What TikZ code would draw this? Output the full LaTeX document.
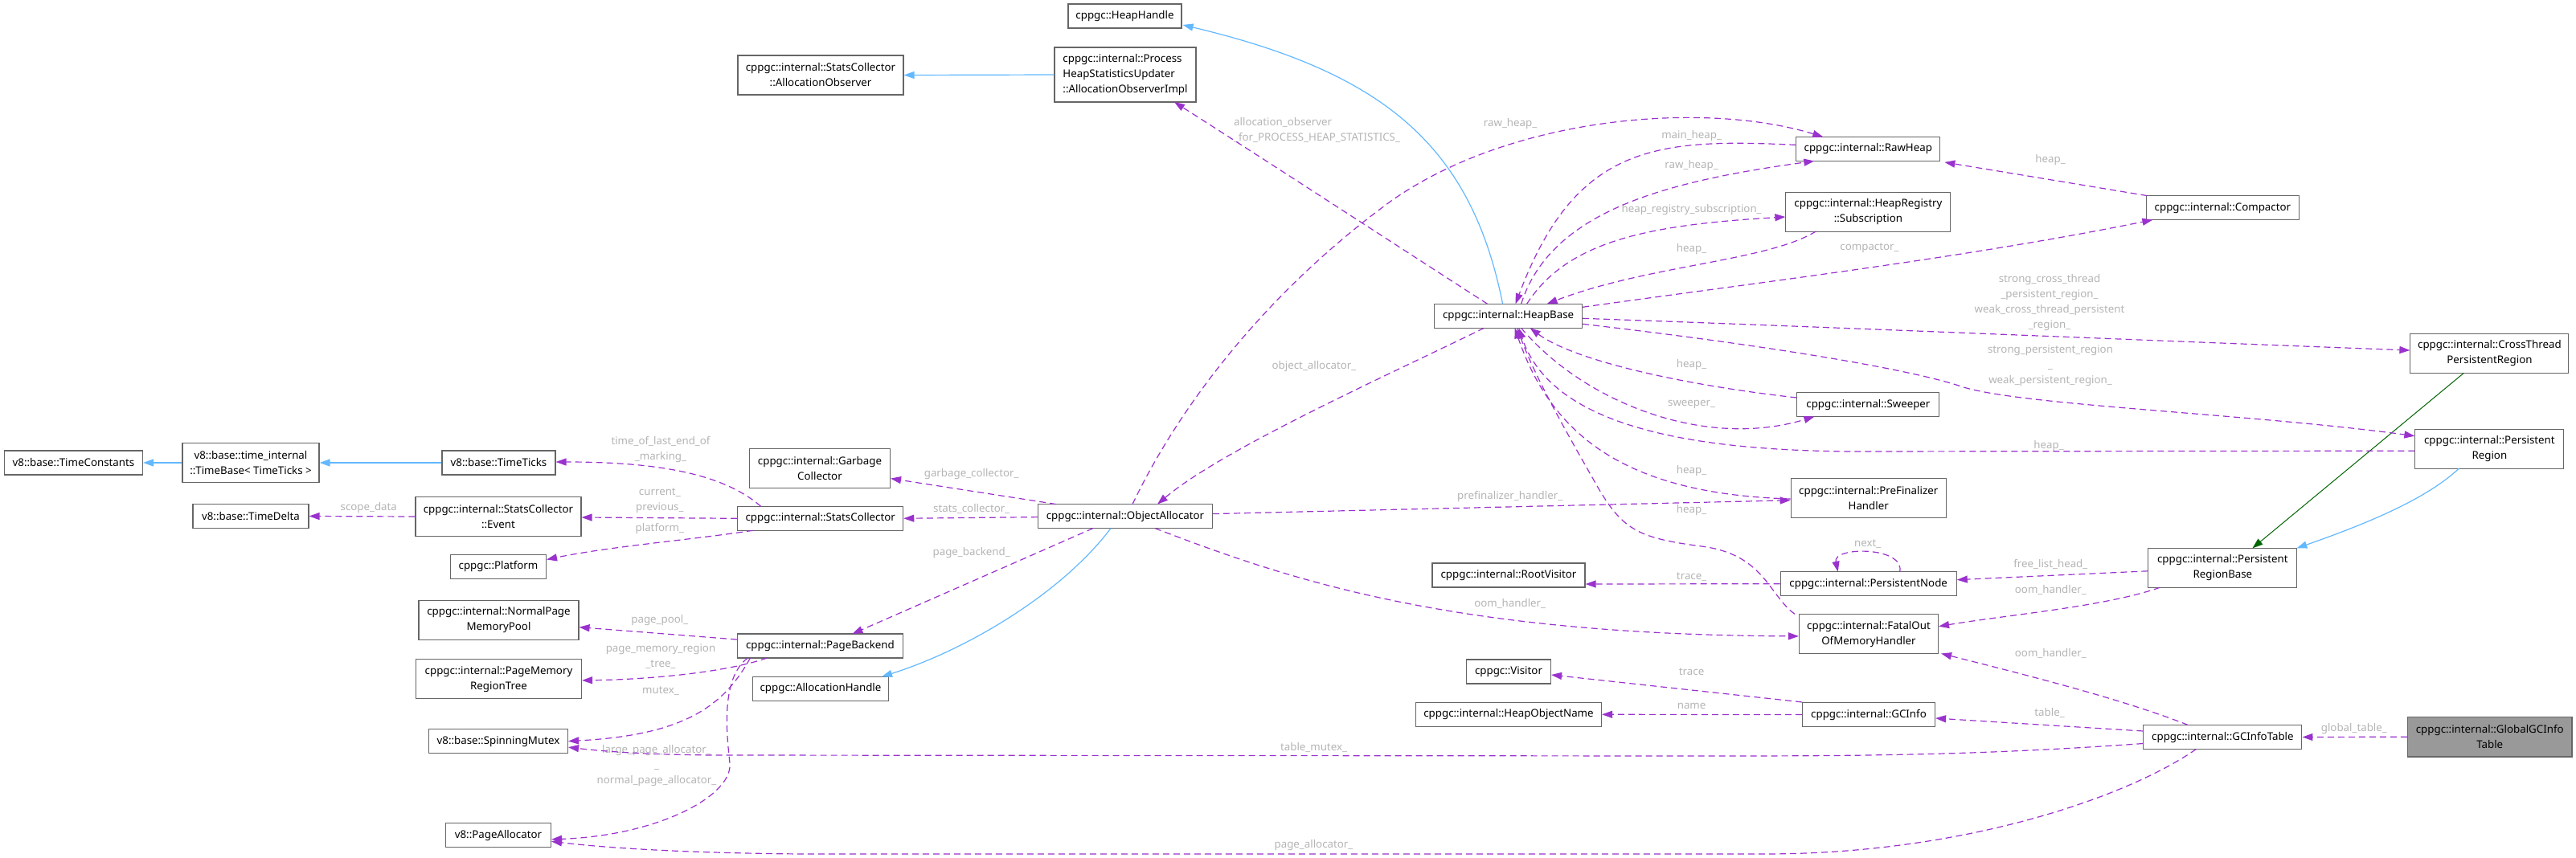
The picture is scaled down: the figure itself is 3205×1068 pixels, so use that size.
\documentclass[tikz,border=0pt]{standalone}
\usepackage{fontspec}
\setmainfont{Noto Sans}
\usetikzlibrary{arrows.meta,calc}
\definecolor{depc}{HTML}{9A32CD}
\definecolor{inhc}{HTML}{63B8FF}
\definecolor{protc}{HTML}{006400}
\definecolor{boxc}{HTML}{666666}
\definecolor{lblc}{HTML}{B4B4B4}
\definecolor{selc}{HTML}{999999}
\begin{document}
\begin{tikzpicture}[x=1pt,y=-1pt,
  font=\fontsize{13.3}{19}\selectfont,
  box/.style={draw=boxc,line width=1.1pt,fill=white,inner sep=0pt,align=center,text=black},
  lbl/.style={text=lblc,inner sep=0pt,align=center},
  dep/.style={draw=depc,line width=1.2pt,dash pattern=on 8pt off 5pt,-{Triangle[length=13pt,width=9pt]}},
  inh/.style={draw=inhc,line width=1.2pt,-{Triangle[length=13pt,width=9pt]}},
  prot/.style={draw=protc,line width=1pt,-{Triangle[length=13pt,width=9pt]}}]
\useasboundingbox (0,0) rectangle (3205,1068);
% nodes
\node[box,minimum width=172pt,minimum height=30pt] (tconst) at (91.5,576) {v8::base::TimeConstants};
\node[box,minimum width=170pt,minimum height=49pt] (tbase) at (312,576) {v8::base::time\_internal\\::TimeBase< TimeTicks >};
\node[box,minimum width=141pt,minimum height=30pt] (tticks) at (620.5,576) {v8::base::TimeTicks};
\node[box,minimum width=144pt,minimum height=30pt] (tdelta) at (312,642.5) {v8::base::TimeDelta};
\node[box,minimum width=206pt,minimum height=49pt] (event) at (620,643) {cppgc::internal::StatsCollector\\::Event};
\node[box,minimum width=119pt,minimum height=30pt] (platform) at (620,705.5) {cppgc::Platform};
\node[box,minimum width=199pt,minimum height=49pt] (npmp) at (620.5,772) {cppgc::internal::NormalPage\\MemoryPool};
\node[box,minimum width=206pt,minimum height=49pt] (pmrt) at (620.5,845.4) {cppgc::internal::PageMemory\\RegionTree};
\node[box,minimum width=173pt,minimum height=30pt] (mutex) at (620,922.6) {v8::base::SpinningMutex};
\node[box,minimum width=131pt,minimum height=30pt] (pagealloc) at (620,1039.8) {v8::PageAllocator};
\node[box,minimum width=206pt,minimum height=49pt] (obs) at (1021,93.5) {cppgc::internal::StatsCollector\\::AllocationObserver};
\node[box,minimum width=175pt,minimum height=49pt] (gc) at (1020,582.6) {cppgc::internal::Garbage\\Collector};
\node[box,minimum width=206pt,minimum height=30pt] (stats) at (1020.7,645.3) {cppgc::internal::StatsCollector};
\node[box,minimum width=206pt,minimum height=30pt] (pb) at (1020.4,804) {cppgc::internal::PageBackend};
\node[box,minimum width=169pt,minimum height=30pt] (ah) at (1021,857.3) {cppgc::AllocationHandle};
\node[box,minimum width=141pt,minimum height=30pt] (hh) at (1399.5,20) {cppgc::HeapHandle};
\node[box,align=left,minimum width=176pt,minimum height=68pt] (obsimpl) at (1400,93) {cppgc::internal::Process\\HeapStatisticsUpdater\\::AllocationObserverImpl};
\node[box,minimum width=217pt,minimum height=30pt] (oa) at (1400,642.6) {cppgc::internal::ObjectAllocator};
\node[box,minimum width=184pt,minimum height=30pt] (hb) at (1876.6,393.3) {cppgc::internal::HeapBase};
\node[box,minimum width=190pt,minimum height=30pt] (rootv) at (1877,716) {cppgc::internal::RootVisitor};
\node[box,minimum width=105pt,minimum height=30pt] (visitor) at (1877,836) {cppgc::Visitor};
\node[box,minimum width=231pt,minimum height=30pt] (hon) at (1877,889.3) {cppgc::internal::HeapObjectName};
\node[box,minimum width=179pt,minimum height=30pt] (rawheap) at (2324.3,185.4) {cppgc::internal::RawHeap};
\node[box,minimum width=205pt,minimum height=49pt] (sub) at (2324.4,263.6) {cppgc::internal::HeapRegistry\\::Subscription};
\node[box,minimum width=177pt,minimum height=30pt] (sweeper) at (2324.4,503.6) {cppgc::internal::Sweeper};
\node[box,minimum width=193pt,minimum height=49pt] (pfh) at (2324.7,620) {cppgc::internal::PreFinalizer\\Handler};
\node[box,minimum width=219pt,minimum height=30pt] (pnode) at (2324.7,726.7) {cppgc::internal::PersistentNode};
\node[box,minimum width=173pt,minimum height=49pt] (oom) at (2325,789.4) {cppgc::internal::FatalOut\\OfMemoryHandler};
\node[box,minimum width=165pt,minimum height=30pt] (gcinfo) at (2325,889.5) {cppgc::internal::GCInfo};
\node[box,minimum width=190pt,minimum height=30pt] (compactor) at (2765.4,258.6) {cppgc::internal::Compactor};
\node[box,minimum width=185pt,minimum height=49pt] (prb) at (2765.4,706.8) {cppgc::internal::Persistent\\RegionBase};
\node[box,minimum width=197pt,minimum height=30pt] (gcit) at (2765.4,917.5) {cppgc::internal::GCInfoTable};
\node[box,minimum width=197pt,minimum height=49pt] (ctpr) at (3097.4,440) {cppgc::internal::CrossThread\\PersistentRegion};
\node[box,minimum width=185pt,minimum height=49pt] (pr) at (3097.4,558.7) {cppgc::internal::Persistent\\Region};
\node[box,fill=selc,minimum width=204.5pt,minimum height=49.5pt] (ggcit) at (3097.7,917.2) {cppgc::internal::GlobalGCInfo\\Table};
% labels
\node[lbl,align=left,anchor=west] (l1) at (1535,162) {allocation\_observer\\\_for\_PROCESS\_HEAP\_STATISTICS\_};
\node[lbl] (l2) at (1879,153.6) {raw\_heap\_};
\node[lbl] (l3) at (2104.6,168.6) {main\_heap\_};
\node[lbl] (l4) at (2104.6,206) {raw\_heap\_};
\node[lbl] (l5) at (2104.6,261.4) {heap\_registry\_subscription\_};
\node[lbl] (l6) at (2104.6,309.6) {heap\_};
\node[lbl] (l7) at (1635,456.4) {object\_allocator\_};
\node[lbl] (l8) at (2104.6,453.6) {heap\_};
\node[lbl] (l9) at (2104.6,503.6) {sweeper\_};
\node[lbl] (l10) at (2551,198.6) {heap\_};
\node[lbl] (l11) at (2326,308.6) {compactor\_};
\node[lbl] (l12) at (2550,376.5) {strong\_cross\_thread\\\_persistent\_region\_\\weak\_cross\_thread\_persistent\\\_region\_};
\node[lbl] (l13) at (2551,455.5) {strong\_persistent\_region\\\_\\weak\_persistent\_region\_};
\node[lbl] (l14) at (2549,555) {heap\_};
\node[lbl] (l15) at (1208.7,590.5) {garbage\_collector\_};
\node[lbl] (l16) at (1208.7,633) {stats\_collector\_};
\node[lbl] (l17) at (1208.7,688.5) {page\_backend\_};
\node[lbl] (l18) at (2104.6,585.8) {heap\_};
\node[lbl] (l19) at (1878.7,618) {prefinalizer\_handler\_};
\node[lbl] (l20) at (2104.6,635) {heap\_};
\node[lbl] (l21) at (2104.6,717.8) {trace\_};
\node[lbl] (l22) at (1878.7,751.4) {oom\_handler\_};
\node[lbl] (l23) at (2104.6,836.3) {trace};
\node[lbl] (l24) at (2104.6,879) {name};
\node[lbl] (l25) at (1634.5,930.6) {table\_mutex\_};
\node[lbl] (l26) at (1634.5,1052) {page\_allocator\_};
\node[lbl] (l27) at (822,559.5) {time\_of\_last\_end\_of\\\_marking\_};
\node[lbl] (l28) at (820.8,623.3) {current\_\\previous\_};
\node[lbl] (l29) at (820.8,657.8) {platform\_};
\node[lbl] (l30) at (458.8,631.6) {scope\_data};
\node[lbl] (l31) at (820.8,772.3) {page\_pool\_};
\node[lbl] (l32) at (822,816.8) {page\_memory\_region\\\_tree\_};
\node[lbl] (l33) at (822,860.5) {mutex\_};
\node[lbl] (l34) at (817,953) {large\_page\_allocator\_\\\_\\normal\_page\_allocator\_};
\node[lbl] (l35) at (2323.7,677.4) {next\_};
\node[lbl] (l36) at (2551.3,702) {free\_list\_head\_};
\node[lbl] (l37) at (2551.3,734) {oom\_handler\_};
\node[lbl] (l38) at (2551.3,813.4) {oom\_handler\_};
\node[lbl] (l39) at (2550,887.5) {table\_};
\node[lbl] (l40) at (2928.8,907) {global\_table\_};
% inheritance edges
\draw[inh] ($(hb)+(-7,-15)$) .. controls (1830,180) and (1720,90) .. ($(hh.east)+(1,11)$);
\draw[inh] (obsimpl.west) -- (obs.east);
\draw[inh] (tticks.west) -- (tbase.east);
\draw[inh] (tbase.west) -- (tconst.east);
\draw[inh] ($(oa)+(-18,15)$) .. controls (1320,740) and (1200,810) .. ($(ah)+(76,-15)$);
\draw[inh] ($(pr)+(-38,24.4)$) .. controls (3020,620) and (2950,650) .. ($(prb)+(92,-24.4)$);
\draw[prot] ($(ctpr)+(-32,24.3)$) -- ($(prb)+(37,-24.4)$);
% usage edges
\draw[dep] ($(hb)+(-26,-15)$) .. controls (1760,320) and (1560,190) .. ($(obsimpl)+(61,34)$);
\draw[dep] ($(oa)+(9,-15)$) .. controls (1470,500) and (1580,360) .. (1731,250) .. controls (1880,145) and (2120,125) .. ($(rawheap)+(-56,-15)$);
\draw[dep] ($(rawheap.west)+(0,-5)$) .. controls (2060,172) and (1960,180) .. ($(hb)+(9,-15)$);
\draw[dep] ($(hb)+(16,-15)$) .. controls (1930,260) and (2080,225) .. ($(rawheap)+(-67,15)$);
\draw[dep] ($(hb)+(23,-15)$) .. controls (1950,300) and (2050,280) .. ($(sub.west)+(0,6.4)$);
\draw[dep] ($(sub)+(-65,24.3)$) .. controls (2200,325) and (2050,330) .. ($(hb)+(48,-15)$);
\draw[dep] ($(hb.east)+(0,-11)$) .. controls (2200,350) and (2450,320) .. ($(compactor)+(-87,15)$);
\draw[dep] ($(compactor)+(-94,-15)$) -- ($(rawheap.south east)+(5,1)$);
\draw[dep] ($(hb.east)+(0,3)$) .. controls (2300,408) and (2700,425) .. ($(ctpr.west)+(0,-4)$);
\draw[dep] ($(hb.east)+(0,10)$) .. controls (2200,430) and (2380,460) .. (2443,482) .. controls (2520,505) and (2800,515) .. ($(pr.west)+(0,-16)$);
\draw[dep] ($(pr.west)+(0,2.5)$) -- (2300,562) .. controls (2100,560) and (1930,530) .. ($(hb)+(13,15)$);
\draw[dep] ($(hb)+(16,15)$) .. controls (1970,500) and (2120,560) .. ($(sweeper)+(-67,15)$);
\draw[dep] ($(sweeper.west)+(0,-8.6)$) .. controls (2100,480) and (1960,450) .. ($(hb)+(27,15)$);
\draw[dep] ($(hb)+(-30,15)$) .. controls (1720,470) and (1520,560) .. ($(oa)+(40,-15)$);
\draw[dep] ($(oa)+(-86,-15)$) -- ($(gc.east)+(0,13)$);
\draw[dep] ($(oa.west)+(0,1)$) -- (stats.east);
\draw[dep] ($(oa)+(-40,15)$) -- ($(pb)+(40,-15)$);
\draw[dep] ($(oa.east)+(0,-3)$) -- ($(pfh.west)+(0,2.7)$);
\draw[dep] ($(oa)+(37,15)$) .. controls (1600,720) and (1800,790) .. ($(oom.west)+(0,2.5)$);
\draw[dep] ($(stats)+(-74,-15)$) .. controls (900,590) and (820,575) .. ($(tticks.east)+(0,-1)$);
\draw[dep] (stats.west) -- ($(event.east)+(0,1)$);
\draw[dep] ($(stats)+(-84,15)$) .. controls (860,672) and (760,680) .. ($(platform.east)+(0,-9)$);
\draw[dep] (event.west) -- (tdelta.east);
\draw[dep] ($(pb.west)+(0,-8)$) -- ($(npmp.east)+(0,8.7)$);
\draw[dep] ($(pb)+(-66,15)$) .. controls (900,838) and (800,846) .. ($(pmrt.east)+(0,1.5)$);
\draw[dep] ($(pb)+(-87,15)$) .. controls (900,880) and (850,915) .. (mutex.east);
\draw[dep] ($(pb)+(-90,15)$) .. controls (895,845) and (905,920) .. (908,950) .. controls (912,990) and (820,1040) .. ($(pagealloc.east)+(0,5)$);
\draw[dep] ($(gcit.west)+(0,8)$) .. controls (2450,941) and (2300,941) .. (2100,941) -- (900,940) .. controls (800,940) and (740,934) .. ($(mutex.east)+(0,7.5)$);
\draw[dep] ($(gcit)+(-33,15)$) .. controls (2650,990) and (2450,1062) .. (2200,1063) -- (1000,1063) .. controls (850,1062) and (750,1055) .. ($(pagealloc.east)+(0,7.5)$);
\draw[dep] ($(gcit.west)+(0,-7.5)$) -- ($(gcinfo.east)+(0,4.5)$);
\draw[dep] ($(gcit)+(-43,-15)$) .. controls (2640,870) and (2520,840) .. ($(oom.south east)+(3,-1)$);
\draw[dep] (ggcit.west) -- (gcit.east);
\draw[dep] (gcinfo.north west) -- ($(visitor.east)+(0,4)$);
\draw[dep] (gcinfo.west) -- (hon.east);
\draw[dep] (pnode.west) -- ($(rootv.east)+(0,11)$);
\draw[dep] ($(oom.north west)+(-5,0)$) .. controls (2200,740) and (2195,690) .. (2117,680) .. controls (2040,670) and (2020,660) .. (1990,610) .. controls (1950,540) and (1910,470) .. ($(hb)+(11,15)$);
\draw[dep] ($(pfh.west)+(0,1)$) .. controls (2020,615) and (1930,540) .. ($(hb)+(8,15)$);
\draw[dep] ($(pnode)+(39,-15)$) .. controls (2370,680) and (2280,680) .. ($(pnode)+(-38,-15)$);
\draw[dep] ($(prb.west)+(0,4)$) -- ($(pnode.east)+(0,-5)$);
\draw[dep] ($(prb)+(-78,24.4)$) .. controls (2620,755) and (2500,765) .. ($(oom.east)+(0,-9.7)$);
\end{tikzpicture}
\end{document}
